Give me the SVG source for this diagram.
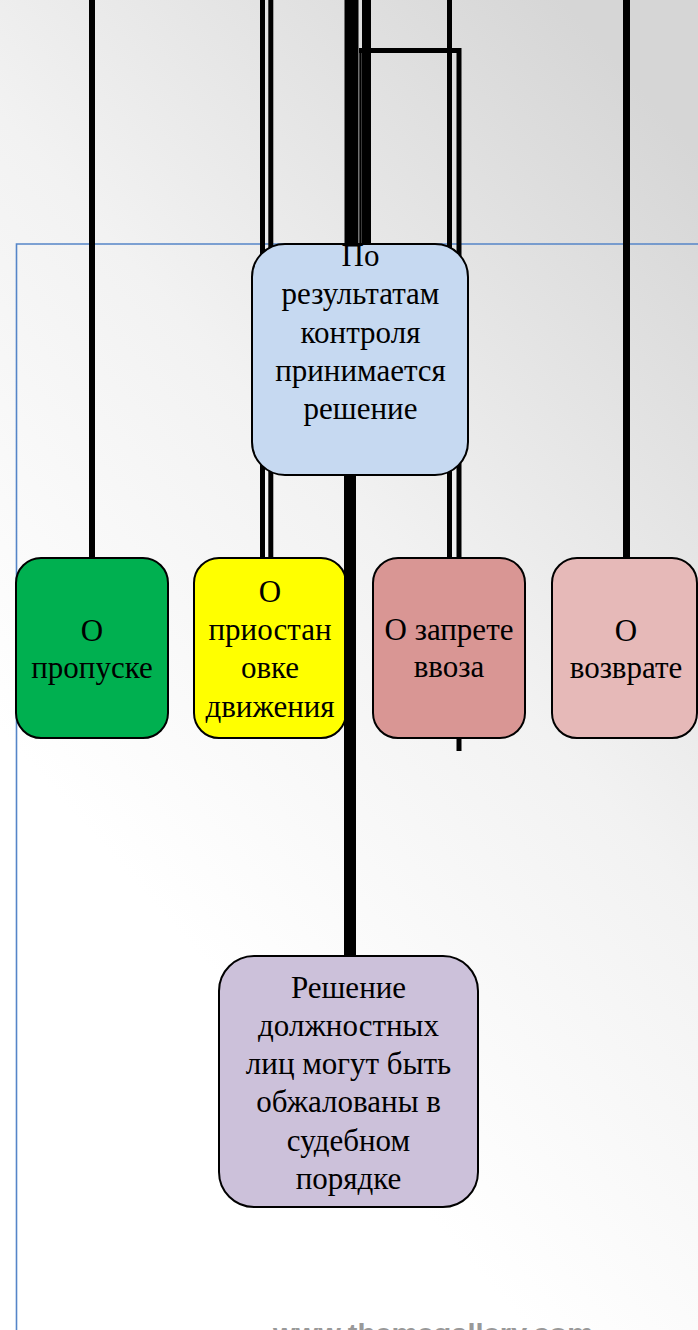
<svg xmlns="http://www.w3.org/2000/svg" width="698" height="1330" viewBox="0 0 698 1330">
<defs>
<linearGradient id="bg" gradientUnits="userSpaceOnUse" x1="60" y1="800" x2="740" y2="200">
<stop offset="0" stop-color="#ffffff"/>
<stop offset="0.45" stop-color="#f2f2f2"/>
<stop offset="1" stop-color="#d6d6d6"/>
</linearGradient>
<style>
.box{stroke:#000;stroke-width:2}
.t{font-family:"Liberation Serif","Times New Roman",serif;font-size:31px;fill:#000;text-anchor:middle}
.c{stroke:#000;fill:none}
</style>
</defs>
<rect x="0" y="0" width="698" height="1330" fill="url(#bg)"/>
<path d="M16.5,1330 V244 H698" fill="none" stroke="#5585c8" stroke-width="1.6"/>
<g id="connectors">
<line class="c" x1="92" y1="0" x2="92" y2="558" stroke-width="6"/>
<line class="c" x1="262.5" y1="0" x2="262.5" y2="558" stroke-width="5"/>
<line class="c" x1="270.8" y1="0" x2="270.8" y2="558" stroke-width="5"/>
<line class="c" x1="351.5" y1="0" x2="351.5" y2="246" stroke-width="14"/>
<line class="c" x1="366.5" y1="0" x2="366.5" y2="246" stroke-width="9"/>
<line class="c" x1="360.5" y1="50" x2="360.5" y2="246" stroke-width="2.5"/>
<polyline class="c" points="359,50.5 459,50.5 459,751" stroke-width="5"/>
<line class="c" x1="449.5" y1="0" x2="449.5" y2="558" stroke-width="5"/>
<line class="c" x1="626.5" y1="0" x2="626.5" y2="558" stroke-width="7"/>
<line class="c" x1="350" y1="474" x2="350" y2="956" stroke-width="12"/>
</g>
<g id="node-decision">
<rect class="box" x="252" y="244" width="216" height="231" rx="33" fill="#c6d9f1"/>
<text class="t" x="360.5" y="266">По</text>
<text class="t" x="360.5" y="304">результатам</text>
<text class="t" x="360.5" y="342.5">контроля</text>
<text class="t" x="360.5" y="381">принимается</text>
<text class="t" x="360.5" y="419">решение</text>
</g>
<g id="node-pass">
<rect class="box" x="16" y="558" width="152" height="180" rx="25" fill="#00b050"/>
<text class="t" x="92" y="641">О</text>
<text class="t" x="92" y="678">пропуске</text>
</g>
<g id="node-suspend">
<rect class="box" x="194" y="558" width="152" height="180" rx="25" fill="#ffff00"/>
<text class="t" x="270" y="602">О</text>
<text class="t" x="270" y="640">приостан</text>
<text class="t" x="270" y="678">овке</text>
<text class="t" x="270" y="717">движения</text>
</g>
<line class="c" x1="350" y1="540" x2="350" y2="760" stroke-width="12"/>
<g id="node-ban">
<rect class="box" x="373" y="558" width="152" height="180" rx="25" fill="#d99694"/>
<text class="t" x="449" y="640">О запрете</text>
<text class="t" x="449" y="677">ввоза</text>
</g>
<g id="node-return">
<rect class="box" x="552" y="558" width="145" height="180" rx="25" fill="#e6b9b8"/>
<text class="t" x="626" y="641">О</text>
<text class="t" x="626" y="678">возврате</text>
</g>
<g id="node-appeal">
<rect class="box" x="219" y="956" width="259" height="251" rx="35" fill="#ccc1da"/>
<text class="t" x="348.5" y="998">Решение</text>
<text class="t" x="348.5" y="1036">должностных</text>
<text class="t" x="348.5" y="1074">лиц могут быть</text>
<text class="t" x="348.5" y="1112">обжалованы в</text>
<text class="t" x="348.5" y="1151">судебном</text>
<text class="t" x="348.5" y="1189">порядке</text>
</g>
<text x="433" y="1341" text-anchor="middle" font-family="Liberation Sans, Arial, sans-serif" font-weight="bold" font-size="24" fill="#999999" textLength="320" lengthAdjust="spacingAndGlyphs">www.themegallery.com</text>
</svg>
